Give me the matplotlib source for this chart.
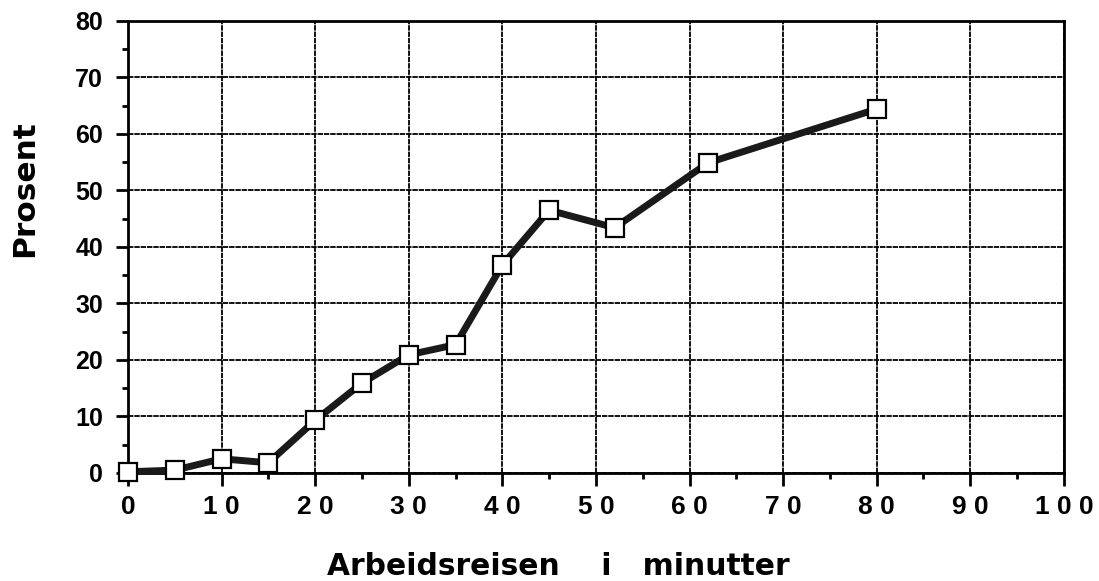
import matplotlib.pyplot as plt
from matplotlib.ticker import MultipleLocator

# reisetid (minutter) og andel (prosent)
minutter = [0, 5, 10, 15, 20, 25, 30, 35, 40, 45, 52, 62, 80]
prosent = [0.2, 0.5, 2.5, 1.8, 9.3, 15.9, 20.9, 22.7, 36.8, 46.5, 43.4, 54.9, 64.4]

x_ticks = [0, 10, 20, 30, 40, 50, 60, 70, 80, 90, 100]
x_ticklabels = ['0', '1 0', '2 0', '3 0', '4 0', '5 0', '6 0', '7 0', '8 0', '9 0', '1 0 0']
y_ticks = [0, 10, 20, 30, 40, 50, 60, 70, 80]

plt.rcParams['font.family'] = ['Liberation Sans', 'DejaVu Sans']

fig = plt.figure(figsize=(10.99, 5.81), dpi=100)
ax = fig.add_axes([0.1165, 0.186, 0.8515, 0.778])

ax.plot(minutter, prosent, color='#1a1a1a', lw=5, solid_joinstyle='round',
        marker='s', markersize=12.5, markerfacecolor='white',
        markeredgecolor='black', markeredgewidth=1.6, zorder=3, clip_on=False)

ax.set_xlim(0, 100)
ax.set_ylim(0, 80)
ax.set_xticks(x_ticks)
ax.set_xticklabels(x_ticklabels, fontsize=19, fontweight='bold')
ax.set_yticks(y_ticks)
ax.set_yticklabels([str(v) for v in y_ticks], fontsize=18, fontweight='bold')
ax.xaxis.set_minor_locator(MultipleLocator(5))
ax.yaxis.set_minor_locator(MultipleLocator(5))
ax.tick_params(which='major', direction='out', length=9, width=2)
ax.tick_params(which='minor', direction='out', length=4.5, width=2)
ax.tick_params(axis='x', which='major', pad=7)
ax.tick_params(axis='y', which='major', pad=9)

ax.grid(True, which='major', color='black', lw=1.3, linestyle=(0, (3, 0.5)))
for s in ax.spines.values():
    s.set_linewidth(2)

fig.text(0.508, 0.0103, 'Arbeidsreisen    i   minutter', ha='center', va='baseline',
         fontsize=21.4, fontweight='bold', family='DejaVu Sans')
fig.text(0.022, 0.675, 'Prosent', rotation=90, ha='center', va='center',
         fontsize=22.5, fontweight='bold', family='DejaVu Sans')

fig.savefig('out.png', dpi=100)
